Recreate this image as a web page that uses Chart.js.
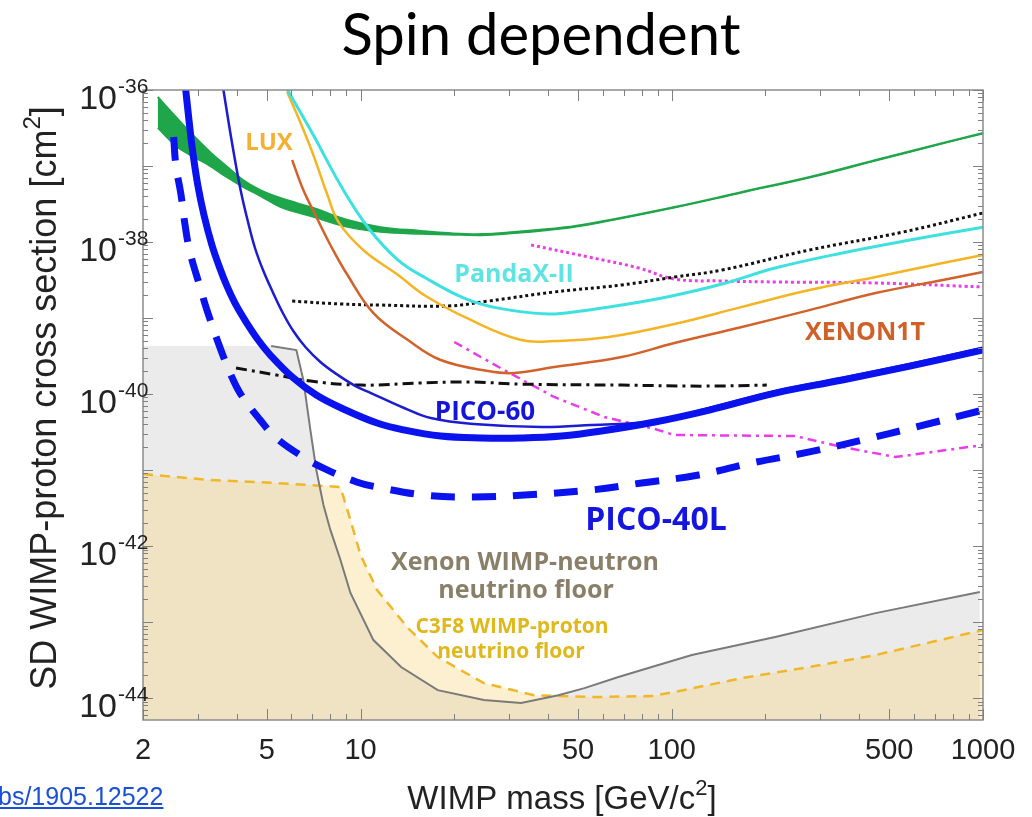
<!DOCTYPE html>
<html><head><meta charset="utf-8">
<script src="https://cdn.jsdelivr.net/npm/chart.js@4"></script>
<style>
html,body{margin:0;padding:0;background:#fff;}
#wrap{position:relative;width:1032px;height:817px;overflow:hidden;}
canvas{display:block;}
#link{position:absolute;left:-2px;top:782px;font:25px "Liberation Sans",Arial,sans-serif;color:#1a4fd8;text-decoration:underline;}
</style></head><body>
<div id="wrap"><canvas id="c" width="1032" height="817"></canvas><span id="link">bs/1905.12522</span></div>
<script>
// ---- tick labels ----
const xTickLabels = [2, 5, 10, 50, 100, 500, 1000];
const yTickExps = [-36, -38, -40, -42, -44];

// ---- series (x: WIMP mass GeV/c^2, y: cross section cm^2) ----
const greenX = [2.23,2.55,2.89,3.28,3.70,4.19,4.76,5.52,7.05,9.08,11.6,15.6,19.1,24.4,31.2,40.1,51.3,102,168,277,452,743,1000];
const greenUpper = [8.09e-37,4.42e-37,2.56e-37,1.53e-37,1.0e-37,6.55e-38,4.83e-38,3.79e-38,2.80e-38,1.95e-38,1.57e-38,1.40e-38,1.31e-38,1.27e-38,1.35e-38,1.48e-38,1.67e-38,2.89e-38,4.55e-38,7.17e-38,1.20e-37,2.01e-37,2.72e-37];
const greenLower = [3.16e-37,1.83e-37,1.33e-37,1.0e-37,7.17e-38,5.29e-38,4.03e-38,2.89e-38,2.13e-38,1.57e-38,1.35e-38,1.27e-38,1.25e-38,1.22e-38,1.30e-38,1.43e-38,1.62e-38,2.82e-38,4.45e-38,7.0e-38,1.17e-37,1.97e-37,2.66e-37];

const pico60X = [2.72,2.81,2.89,3.00,3.14,3.33,3.53,3.72,3.95,4.29,4.69,5.13,6.08,7.21,8.81,11.3,13.8,18.1,24.4,32.8,44.2,59.4,88.2,132,215,353,582,1000];
const pico60Y = [1.4e-36,4.03e-37,1.53e-37,5.62e-38,2.27e-38,9.14e-39,4.55e-39,2.64e-39,1.57e-39,8.85e-40,5.14e-40,3.26e-40,1.63e-40,9.70e-41,6.35e-41,4.15e-41,3.36e-41,2.80e-41,2.64e-41,2.64e-41,2.80e-41,3.26e-41,4.28e-41,6.15e-41,1.03e-40,1.53e-40,2.33e-40,3.79e-40];

const pico60bX = [3.58,3.78,3.95,4.13,4.35,4.58,4.86,5.24,5.65,6.08,6.65,7.43,8.37,9.64,10.8,13.8,16.8,23.1,38.1,55.2,88.2,132,215,353,582,1000];
const pico60bY = [1.4e-36,3.46e-37,1.20e-37,4.55e-38,1.83e-38,8.34e-39,4.28e-39,2.13e-39,1.13e-39,6.75e-40,4.15e-40,2.64e-40,1.83e-40,1.27e-40,1.03e-40,6.55e-41,4.83e-41,4.03e-41,3.68e-41,3.91e-41,4.42e-41,6.55e-41,1.09e-40,1.63e-40,2.48e-40,4.03e-40];

const pico40X = [2.51,2.55,2.65,2.73,2.83,3.05,3.21,3.53,3.81,4.10,4.76,5.36,6.55,7.60,9.71,11.3,16.0,23.1,33.6,55.2,80.0,122,181,277,410,608,1000];
const pico40Y = [2.41e-37,1.03e-37,4.15e-38,1.67e-38,7.38e-39,2.56e-39,1.27e-39,4.15e-40,1.89e-40,1.03e-40,4.55e-41,2.64e-41,1.48e-41,1.06e-41,6.95e-42,5.97e-42,4.69e-42,4.42e-42,4.69e-42,5.46e-42,6.75e-42,8.59e-42,1.24e-41,1.73e-41,2.48e-41,3.68e-41,6.15e-41];

const pandaX = [5.75,7.05,8.62,10.6,13.2,16.2,21.5,27.7,40.1,51.3,69.0,100,145,215,353,582,1000];
const pandaY = [1.1e-36,2.56e-37,5.62e-38,1.53e-38,5.79e-39,3.36e-39,1.83e-39,1.35e-39,1.13e-39,1.24e-39,1.48e-39,1.95e-39,2.80e-39,4.55e-39,7.17e-39,1.06e-38,1.57e-38];

const luxX = [5.81,6.40,7.05,7.83,8.50,10.2,13.2,16.2,22.6,32.8,41.9,62.7,102,168,277,452,743,1000];
const luxY = [9.42e-37,3.79e-37,1.40e-37,4.15e-38,1.83e-38,7.85e-39,3.68e-39,1.95e-39,9.42e-40,5.14e-40,4.98e-40,5.62e-40,8.34e-40,1.40e-39,2.33e-39,3.46e-39,5.29e-39,6.75e-39];

const xenonX = [6.03,6.55,7.16,8.0,9.08,11.0,14.2,18.1,25.7,31.2,41.9,69.0,102,168,277,452,743,1000];
const xenonY = [1.20e-37,4.83e-38,2.27e-38,9.14e-39,3.68e-39,1.16e-39,5.14e-40,2.80e-40,2.01e-40,1.89e-40,2.26e-40,3.07e-40,4.69e-40,7.62e-40,1.27e-39,2.13e-39,3.16e-39,4.03e-39];

const dottedX = [6.03,8.62,11.6,19.1,25.7,41.9,69.0,102,145,277,552,1000];
const dottedY = [1.67e-39,1.53e-39,1.48e-39,1.44e-39,1.67e-39,2.20e-39,2.72e-39,3.46e-39,4.28e-39,7.85e-39,1.35e-38,2.41e-38];

const dashDotX = [3.98,5.36,6.90,10,15.6,22.6,32.8,69.0,125,202];
const dashDotY = [2.20e-40,1.78e-40,1.48e-40,1.31e-40,1.40e-40,1.44e-40,1.35e-40,1.31e-40,1.27e-40,1.31e-40];

const magDotX = [35.3,54.0,78.3,102,145,215,452,1000];
const magDotY = [9.14e-39,6.35e-39,4.55e-39,3.26e-39,3.07e-39,2.98e-39,2.89e-39,2.56e-39];

const magDashX = [20.0,28.9,41.9,60.8,88.2,102,249,353,524,1000];
const magDashY = [4.83e-40,2.07e-40,9.14e-41,4.98e-41,3.46e-41,2.89e-41,2.80e-41,2.01e-41,1.48e-41,2.13e-41];

const xeFloorX = [2.0,5.16,6.22,6.55,6.90,7.21,7.60,8.0,8.62,9.28,11.0,13.5,17.7,24.9,32.8,43.2,52.4,67.4,86.2,116,215,452,977];
const xeFloorY = [4.28e-40,4.28e-40,3.79e-40,1.53e-40,3.36e-41,1.0e-41,3.46e-42,1.63e-42,6.55e-43,2.41e-43,5.79e-44,2.56e-44,1.27e-44,9.42e-45,8.59e-45,1.09e-44,1.35e-44,1.89e-44,2.56e-44,3.68e-44,6.35e-44,1.31e-43,2.48e-43];

const cfFloorX = [2.0,3.28,5.36,8.62,8.81,9.28,10,11.3,14.2,17.7,24.9,36.1,55.2,86.2,102,168,277,452,1000];
const cfFloorY = [8.85e-42,7.38e-42,6.75e-42,5.97e-42,4.42e-42,2.20e-42,7.62e-43,2.64e-43,8.34e-44,3.46e-44,1.57e-44,1.09e-44,1.03e-44,1.06e-44,1.20e-44,1.83e-44,2.56e-44,3.68e-44,7.85e-44];

const zip = (xs, ys) => xs.map((v, i) => ({x: v, y: ys[i]}));

const smooth = {tension: 0.4, pointRadius: 0, fill: false};
const straight = {tension: 0, pointRadius: 0, fill: false};

const datasets = [
  Object.assign({}, straight, {label:'C3F8 floor', data: zip(cfFloorX, cfFloorY), borderColor:'#f0b828', borderWidth:2.5, borderDash:[10,7], fill:'start', backgroundColor:'rgba(245,205,98,0.3)', order: 50}),
  Object.assign({}, straight, {label:'Xe floor area', data: zip(xeFloorX, xeFloorY), borderWidth:0, borderColor:'rgba(0,0,0,0)', fill:'start', backgroundColor:'rgba(0,0,0,0.08)', order: 52}),
  Object.assign({}, straight, {label:'Xe floor', data: zip(xeFloorX.slice(1), xeFloorY.slice(1)), borderColor:'#7a7a7a', borderWidth:2, order: 49}),
  Object.assign({}, smooth, {label:'green upper', data: zip(greenX, greenUpper), borderColor:'#1fa64a', borderWidth:2, order: 40}),
  Object.assign({}, smooth, {label:'green lower', data: zip(greenX, greenLower), borderColor:'#1fa64a', borderWidth:1.5, fill:'-1', backgroundColor:'#1fa64a', order: 41}),
  Object.assign({}, smooth, {label:'magenta dotted', data: zip(magDotX, magDotY), borderColor:'#e83de8', borderWidth:3, borderDash:[3,3], order: 30}),
  Object.assign({}, straight, {label:'magenta dashdot', data: zip(magDashX, magDashY), borderColor:'#e83de8', borderWidth:2.5, borderDash:[9,5,3,5], order: 30}),
  Object.assign({}, smooth, {label:'black dotted', data: zip(dottedX, dottedY), borderColor:'#111', borderWidth:3, borderDash:[3,3], order: 29}),
  Object.assign({}, smooth, {label:'black dashdot', data: zip(dashDotX, dashDotY), borderColor:'#111', borderWidth:3, borderDash:[11,5,3,5], order: 29}),
  Object.assign({}, smooth, {label:'PandaX-II', data: zip(pandaX, pandaY), borderColor:'#3ee0e0', borderWidth:3, order: 20}),
  Object.assign({}, smooth, {label:'LUX', data: zip(luxX, luxY), borderColor:'#f4b424', borderWidth:2.5, order: 20}),
  Object.assign({}, smooth, {label:'XENON1T', data: zip(xenonX, xenonY), borderColor:'#d2622a', borderWidth:2.5, order: 20}),
  Object.assign({}, smooth, {label:'PICO-40L', data: zip(pico40X, pico40Y), borderColor:'#0a12ee', borderWidth:7, borderDash:[24,17], order: 10}),
  Object.assign({}, smooth, {label:'PICO-60 thin', data: zip(pico60bX, pico60bY), borderColor:'#1c1cd0', borderWidth:2.5, order: 11}),
  Object.assign({}, smooth, {label:'PICO-60', data: zip(pico60X, pico60Y), borderColor:'#0a12ee', borderWidth:7, order: 10})
];

const texts = [
  {t:'LUX', x:269, y:150, c:'#f4b030', s:24},
  {t:'PandaX-II', x:514, y:282, c:'#5fe3e3', s:25},
  {t:'XENON1T', x:865, y:340, c:'#d0602a', s:25},
  {t:'PICO-60', x:485, y:420, c:'#1515d8', s:26},
  {t:'PICO-40L', x:656, y:530, c:'#1515e0', s:32},
  {t:'Xenon WIMP-neutron', x:525, y:570, c:'#8a806a', s:25},
  {t:'neutrino floor', x:526, y:598, c:'#8a806a', s:25},
  {t:'C3F8 WIMP-proton', x:512, y:633, c:'#dfb81c', s:21},
  {t:'neutrino floor', x:511, y:658, c:'#dfb81c', s:21}
];

function supText(ctx, parts, x, y, align) {
  let w = 0;
  parts.forEach(p => { ctx.font = p[1] + 'px "Liberation Sans", Arial, sans-serif'; w += ctx.measureText(p[0]).width; });
  let cx = align === 'center' ? x - w / 2 : (align === 'right' ? x - w : x);
  ctx.textAlign = 'left';
  parts.forEach(p => { ctx.font = p[1] + 'px "Liberation Sans", Arial, sans-serif'; ctx.fillText(p[0], cx, y + p[2]); cx += ctx.measureText(p[0]).width; });
}

const decor = {
  id: 'decor',
  afterDatasetsDraw(chart) {
    const {ctx, chartArea: a, scales: {x, y}} = chart;
    ctx.save();
    ctx.strokeStyle = '#8c8c8c'; ctx.lineWidth = 1.5;
    ctx.strokeRect(a.left, a.top, a.right - a.left, a.bottom - a.top);
    ctx.lineWidth = 1; ctx.strokeStyle = '#808080';
    ctx.beginPath();
    for (let d = 0; d <= 3; d++) for (let m = 1; m <= 9; m++) {
      const v = m * Math.pow(10, d);
      if (v < 2 || v > 1000) continue;
      const px = Math.round(x.getPixelForValue(v)) + 0.5;
      const L = xTickLabels.includes(v) ? 11 : 6;
      ctx.moveTo(px, a.bottom); ctx.lineTo(px, a.bottom - L);
      ctx.moveTo(px, a.top); ctx.lineTo(px, a.top + L);
    }
    for (let e = -45; e <= -36; e++) for (let m = 1; m <= 9; m++) {
      const v = m * Math.pow(10, e);
      if (v < y.min || v > y.max * 1.0001) continue;
      const py = Math.round(y.getPixelForValue(v)) + 0.5;
      const L = m === 1 ? 10 : 5;
      ctx.moveTo(a.left, py); ctx.lineTo(a.left + L, py);
      ctx.moveTo(a.right, py); ctx.lineTo(a.right - L, py);
    }
    ctx.stroke();
    ctx.textAlign = 'center'; ctx.textBaseline = 'alphabetic';
    texts.forEach(o => { ctx.fillStyle = o.c; ctx.font = 'bold ' + o.s + 'px "Open Sans", "DejaVu Sans", sans-serif'; ctx.fillText(o.t, o.x, o.y); });
    ctx.restore();
  },
  afterDraw(chart) {
    const {ctx, scales: {x, y}} = chart;
    ctx.save();
    ctx.fillStyle = '#222'; ctx.textBaseline = 'alphabetic';
    ctx.font = '29px "Liberation Sans", Arial, sans-serif'; ctx.textAlign = 'center';
    xTickLabels.forEach(v => ctx.fillText(String(v), x.getPixelForValue(v), 759));
    yTickExps.forEach(e => {
      const py = y.getPixelForValue(Math.pow(10, e));
      ctx.textAlign = 'right'; ctx.font = '34px "Liberation Sans", Arial, sans-serif';
      ctx.fillText('10', 117, py + 19);
      ctx.textAlign = 'left'; ctx.font = '21px "Liberation Sans", Arial, sans-serif';
      ctx.fillText(String(e), 118, py + 3);
    });
    supText(ctx, [['WIMP mass [GeV/c', 33, 0], ['2', 22, -14], [']', 33, 0]], 562, 809, 'center');
    ctx.save();
    ctx.translate(56, 398); ctx.rotate(-Math.PI / 2);
    supText(ctx, [['SD WIMP-proton cross section [cm', 36, 0], ['2', 24, -16], [']', 36, 0]], 0, 0, 'center');
    ctx.restore();
    ctx.fillStyle = '#000'; ctx.textAlign = 'center';
    ctx.font = '58px Lato, "Open Sans", sans-serif';
    ctx.fillText('Spin dependent', 541, 55);
    ctx.restore();
  }
};

new Chart(document.getElementById('c'), {
  type: 'line',
  data: {datasets},
  options: {
    responsive: false, animation: false, devicePixelRatio: 1,
    layout: {padding: {left: 143, right: 49, top: 90, bottom: 97}},
    scales: {
      x: {type: 'logarithmic', min: 2, max: 1000, display: false},
      y: {type: 'logarithmic', min: 5.14e-45, max: 1e-36, display: false}
    },
    plugins: {legend: {display: false}, tooltip: {enabled: false}, title: {display: false}}
  },
  plugins: [decor]
});
</script>
</body></html>
